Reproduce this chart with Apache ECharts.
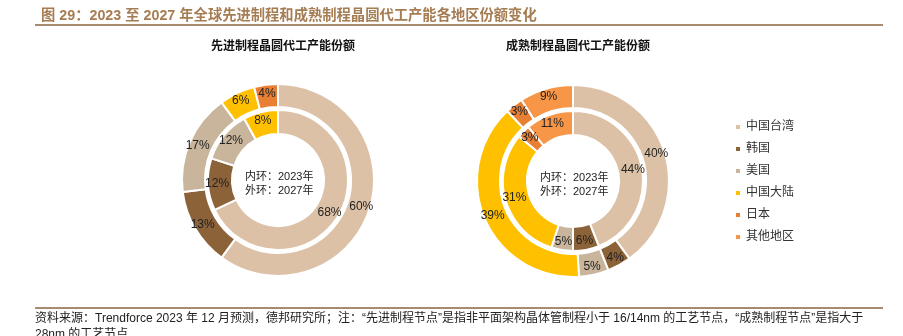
<!DOCTYPE html>
<html><head><meta charset="utf-8">
<script src="https://cdn.jsdelivr.net/npm/echarts@6/dist/echarts.min.js"></script>
<style>html,body{margin:0;padding:0;background:#fff}#c{width:903px;height:336px}</style>
</head><body><div id="c"></div>
<script>
const categories = ['中国台湾','韩国','美国','中国大陆','日本','其他地区'];
const colors = ['#DCC1A7','#8C6239','#C8B59C','#FFC000','#E97F32','#F79646'];
const advanced2023 = [68,12,12,8,0,0];
const advanced2027 = [60,13,17,6,4,0];
const mature2023 = [44,6,5,31,3,11];
const mature2027 = [40,4,5,39,3,9];

const FONT = '"Liberation Sans", Arial, "Noto Sans CJK SC", sans-serif';

function build(vals){
  const out = [];
  vals.forEach((v,i)=>{ if(v>0) out.push({name:categories[i], value:v, itemStyle:{color:colors[i]}}); });
  return out;
}
function pie(center, radius, vals){
  return {
    type:'pie', center:center, radius:radius, startAngle:90, clockwise:true,
    avoidLabelOverlap:false, silent:true,
    itemStyle:{borderColor:'#fff', borderWidth:2},
    label:{show:true, position:'inside', formatter:'{c}%', fontSize:12, color:'#222', fontFamily:FONT},
    labelLine:{show:false},
    data: build(vals)
  };
}
const chart = echarts.init(document.getElementById('c'), null, {renderer:'canvas'});
const LC = [278,180], RC = [573,181];
chart.setOption({
  animation:false,
  title:[
    {text:'图 29：2023 至 2027 年全球先进制程和成熟制程晶圆代工产能各地区份额变化', left:36, top:4,
     textStyle:{fontSize:14.3, fontWeight:'bold', color:'#A67C52', fontFamily:FONT}},
    {text:'先进制程晶圆代工产能份额', left:LC[0], top:36, textAlign:'center',
     textStyle:{fontSize:12, fontWeight:'bold', color:'#111', fontFamily:FONT}},
    {text:'成熟制程晶圆代工产能份额', left:RC[0], top:36, textAlign:'center',
     textStyle:{fontSize:12, fontWeight:'bold', color:'#111', fontFamily:FONT}}
  ],
  legend:{
    orient:'vertical', left:729, top:116, icon:'rect', itemWidth:6, itemHeight:6, itemGap:10,
    data:categories, selectedMode:false,
    textStyle:{fontSize:12, color:'#333', fontFamily:FONT, lineHeight:12}
  },
  series:[
    pie(LC, [46,70], advanced2023),
    pie(LC, [73,96], advanced2027),
    pie(RC, [46,70], mature2023),
    pie(RC, [73,96], mature2027)
  ],
  graphic:[
    {type:'line', shape:{x1:35,y1:25,x2:883,y2:25}, style:{stroke:'#A68B6D', lineWidth:2}},
    {type:'line', shape:{x1:35,y1:308,x2:883,y2:308}, style:{stroke:'#A68B6D', lineWidth:2}},
    {type:'text', left:LC[0]-33, top:170, style:{text:'内环：2023年\n外环：2027年', lineHeight:14, fill:'#222', font:'11px '+FONT}},
    {type:'text', left:RC[0]-33, top:171, style:{text:'内环：2023年\n外环：2027年', lineHeight:14, fill:'#222', font:'11px '+FONT}},
    {type:'text', left:35, top:311, style:{text:'资料来源：Trendforce 2023 年 12 月预测，德邦研究所；注：“先进制程节点”是指非平面架构晶体管制程小于 16/14nm 的工艺节点，“成熟制程节点”是指大于\n28nm 的工艺节点', lineHeight:16, fill:'#222', font:'12px '+FONT}}
  ]
});
</script></body></html>
